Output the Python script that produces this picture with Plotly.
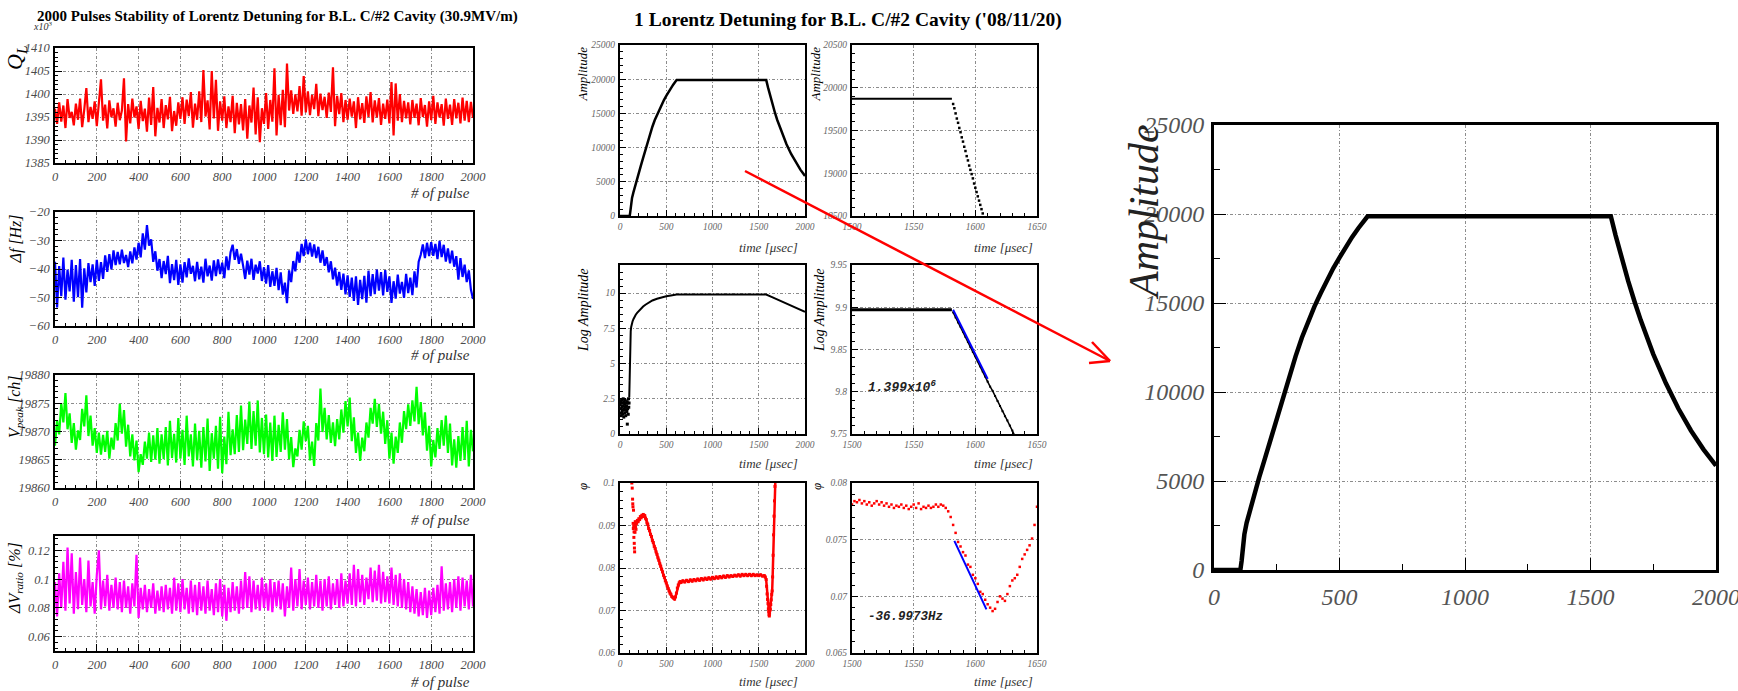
import math
import plotly.graph_objects as go

W, H = 1738, 691
SERIF = "Liberation Serif"
MONO = "Liberation Mono"

# ---------------- 2000-pulse stability run (every 10th pulse) ----------------
pulse = list(range(0, 2001, 10))

q_loaded = [  # Q_L  (x10^3)
    1396.8, 1393.5, 1398.2, 1394.0, 1397.5, 1392.6, 1398.9, 1394.8, 1396.1, 1393.2,
    1397.9, 1394.4, 1399.0, 1392.8, 1396.6, 1401.3, 1393.9, 1397.2, 1394.6, 1398.4,
    1393.0, 1399.1, 1403.2, 1394.2, 1397.7, 1392.5, 1398.6, 1395.0, 1396.9, 1392.9,
    1398.1, 1394.3, 1396.4, 1403.4, 1389.7, 1397.8, 1393.6, 1399.0, 1394.9, 1397.3,
    1392.4, 1398.5, 1394.1, 1396.8, 1391.8, 1399.2, 1393.3, 1401.5, 1390.8, 1397.0,
    1393.8, 1398.9, 1392.6, 1397.6, 1394.5, 1399.4, 1391.9, 1396.3, 1393.1, 1398.2,
    1394.6, 1399.3, 1393.5, 1398.8, 1395.2, 1400.4, 1392.7, 1397.9, 1394.4, 1400.6,
    1393.9, 1405.2, 1395.1, 1398.6, 1392.3, 1405.0, 1394.7, 1403.1, 1392.0, 1398.4,
    1394.2, 1399.5, 1392.6, 1397.3, 1393.9, 1399.6, 1391.5, 1398.1, 1393.4, 1397.8,
    1392.1, 1398.9, 1390.3, 1397.5, 1393.8, 1401.4, 1391.2, 1399.3, 1389.5, 1396.9,
    1393.5, 1400.2, 1392.4, 1398.7, 1394.0, 1405.6, 1391.0, 1399.8, 1393.2, 1400.9,
    1392.8, 1406.6, 1396.4, 1400.8, 1395.7, 1399.9, 1396.2, 1401.7, 1395.3, 1403.9,
    1396.0, 1400.6, 1395.4, 1399.8, 1396.7, 1402.2, 1395.2, 1400.1, 1396.5, 1399.4,
    1394.8, 1400.3, 1396.1, 1405.8, 1393.0, 1399.6, 1395.6, 1400.2, 1393.9, 1398.7,
    1394.4, 1399.0, 1395.1, 1398.4, 1392.6, 1399.3, 1394.5, 1398.0, 1393.7, 1399.5,
    1395.0, 1400.4, 1393.8, 1398.6, 1394.9, 1399.1, 1393.3, 1397.9, 1394.6, 1398.8,
    1393.6, 1402.6, 1391.0, 1402.3, 1394.2, 1400.0, 1393.9, 1398.5, 1394.7, 1398.2,
    1393.4, 1398.7, 1394.8, 1397.9, 1393.2, 1399.1, 1395.0, 1397.6, 1392.9, 1398.4,
    1394.3, 1399.6, 1393.5, 1398.2, 1394.9, 1397.8, 1393.1, 1399.0, 1394.6, 1397.7,
    1393.3, 1398.9, 1394.7, 1398.1, 1393.6, 1399.2, 1394.2, 1398.5, 1393.9, 1398.3,
    1394.8,
]

detune_hz = [
    -37.5, -53.5, -39.0, -49.5, -36.0, -50.8, -40.2, -47.9, -36.8, -51.5,
    -38.6, -49.9, -36.5, -53.6, -39.8, -48.2, -37.9, -44.6, -38.4, -45.9,
    -36.8, -44.2, -37.6, -43.5, -35.2, -41.0, -34.8, -40.1, -33.5, -38.6,
    -34.0, -38.4, -33.2, -37.9, -35.1, -39.3, -33.8, -38.0, -32.4, -36.7,
    -30.8, -35.9, -27.5, -33.2, -24.6, -31.8, -29.6, -37.5, -33.8, -40.6,
    -36.5, -43.2, -37.2, -41.8, -35.4, -45.0, -38.3, -43.9, -36.8, -45.6,
    -38.4, -44.8, -37.6, -42.9, -36.3, -41.7, -38.9, -44.3, -37.5, -43.6,
    -39.2, -44.8, -36.4, -42.6, -38.8, -44.1, -37.0, -42.5, -36.6, -41.8,
    -37.8, -43.2, -35.6, -40.4, -34.1, -31.5, -36.8, -33.0, -38.2, -34.6,
    -38.8, -43.5, -37.1, -42.0, -36.4, -43.8, -38.5, -41.6, -37.3, -44.2,
    -39.4, -45.1, -38.6, -46.3, -40.8, -45.9, -39.6, -47.4, -41.2, -49.0,
    -44.8, -52.0, -40.5, -44.6, -37.2, -40.8, -33.9, -37.8, -31.2, -35.5,
    -29.6, -34.8, -30.8, -35.6, -31.4, -36.2, -32.2, -37.8, -33.5, -38.9,
    -35.8, -41.2, -37.3, -43.6, -39.5, -45.8, -41.0, -47.3, -41.6, -48.9,
    -42.2, -49.8, -43.0, -51.2, -42.6, -52.6, -43.8, -50.6, -42.4, -51.8,
    -40.6, -49.5, -41.8, -48.8, -40.2, -47.6, -41.1, -49.3, -40.4, -48.0,
    -42.6, -51.9, -44.3, -50.4, -42.0, -48.6, -44.5, -50.1, -41.7, -48.5,
    -43.0, -49.2, -40.8, -46.5, -37.4, -35.0, -31.4, -36.2, -30.8, -35.5,
    -30.6, -35.4, -31.2, -36.5, -30.1, -35.8, -31.5, -37.4, -32.8, -38.0,
    -33.6, -39.2, -35.5, -43.7, -36.2, -42.8, -38.5, -44.6, -40.5, -47.2,
    -50.5,
]

v_peak = [
    19867.5, 19872.0, 19869.5, 19875.0, 19871.6, 19876.8, 19870.4, 19873.2, 19868.0, 19871.5,
    19866.8, 19870.2, 19868.5, 19874.0, 19870.9, 19876.4, 19869.2, 19872.8, 19867.5, 19870.6,
    19866.2, 19869.8, 19865.9, 19869.4, 19866.4, 19870.1, 19865.2, 19868.9, 19866.8, 19871.5,
    19868.4, 19874.9, 19869.6, 19873.8, 19867.3, 19871.2, 19865.6, 19869.5, 19864.9, 19868.4,
    19862.8, 19866.0, 19864.1, 19868.2, 19865.2, 19869.8, 19864.6, 19869.3, 19865.0, 19870.6,
    19864.3, 19869.5, 19865.1, 19870.8, 19864.0, 19871.9, 19865.3, 19869.6, 19864.5, 19872.4,
    19865.2, 19870.3, 19864.1, 19872.8, 19865.6, 19869.5, 19863.8, 19871.4, 19864.9, 19870.1,
    19863.6, 19870.8, 19864.7, 19872.3, 19863.0, 19869.7, 19865.2, 19871.0, 19863.4, 19872.6,
    19862.6, 19869.1, 19864.2, 19873.5, 19865.8, 19870.4, 19866.0, 19872.9, 19866.4, 19874.6,
    19866.7, 19872.1, 19867.8, 19875.3, 19866.9, 19873.6, 19867.5, 19875.5, 19866.3, 19872.4,
    19866.0, 19873.0, 19865.4, 19871.6, 19864.8, 19872.8, 19865.5, 19871.2, 19866.4, 19873.4,
    19866.8, 19872.2, 19865.1, 19869.0, 19863.7, 19867.0, 19865.6, 19870.3, 19866.8, 19871.8,
    19868.3, 19871.0, 19864.9, 19868.2, 19863.9, 19871.5, 19868.4, 19877.6, 19869.9, 19874.2,
    19868.6, 19872.9, 19868.0, 19871.6, 19867.4, 19872.2, 19868.6, 19873.9, 19869.8, 19875.4,
    19870.9, 19876.0, 19868.3, 19872.5, 19866.2, 19869.8, 19864.8, 19868.9, 19866.5, 19871.6,
    19868.9, 19874.2, 19871.4, 19875.8, 19870.8, 19874.9, 19869.6, 19873.5, 19867.8, 19872.0,
    19865.2, 19869.8, 19864.3, 19869.1, 19866.2, 19871.6, 19868.0, 19873.6, 19870.4, 19874.8,
    19871.0, 19875.5, 19871.8, 19877.9, 19871.3, 19875.2, 19869.3, 19873.4, 19866.6, 19871.0,
    19863.8, 19868.5, 19865.4, 19870.6, 19866.9, 19872.0, 19867.5, 19872.8, 19866.2, 19871.4,
    19864.0, 19868.6, 19863.6, 19869.2, 19864.8, 19870.8, 19865.0, 19871.9, 19863.8, 19870.3,
    19866.5,
]

dv_ratio = [  # %
    0.098, 0.074, 0.104, 0.080, 0.112, 0.078, 0.122, 0.083, 0.118, 0.076,
    0.105, 0.079, 0.115, 0.082, 0.100, 0.077, 0.113, 0.081, 0.098, 0.076,
    0.103, 0.120, 0.079, 0.099, 0.081, 0.103, 0.078, 0.096, 0.080, 0.101,
    0.079, 0.098, 0.077, 0.099, 0.080, 0.095, 0.076, 0.097, 0.081, 0.117,
    0.073, 0.094, 0.079, 0.096, 0.077, 0.093, 0.080, 0.097, 0.076, 0.092,
    0.078, 0.095, 0.077, 0.096, 0.079, 0.094, 0.076, 0.101, 0.078, 0.097,
    0.077, 0.100, 0.079, 0.094, 0.076, 0.099, 0.077, 0.096, 0.075, 0.098,
    0.078, 0.095, 0.076, 0.099, 0.078, 0.093, 0.075, 0.097, 0.077, 0.100,
    0.074, 0.096, 0.071, 0.094, 0.077, 0.098, 0.078, 0.095, 0.076, 0.099,
    0.079, 0.105, 0.080, 0.102, 0.077, 0.099, 0.079, 0.096, 0.078, 0.101,
    0.080, 0.097, 0.078, 0.100, 0.077, 0.098, 0.081, 0.099, 0.079, 0.097,
    0.074, 0.095, 0.080, 0.108, 0.078, 0.100, 0.081, 0.107, 0.079, 0.099,
    0.082, 0.101, 0.079, 0.098, 0.081, 0.103, 0.080, 0.099, 0.078, 0.100,
    0.081, 0.102, 0.079, 0.097, 0.082, 0.100, 0.080, 0.104, 0.081, 0.099,
    0.083, 0.104, 0.082, 0.110, 0.081, 0.107, 0.084, 0.103, 0.082, 0.101,
    0.086, 0.108, 0.084, 0.106, 0.085, 0.110, 0.083, 0.105, 0.084, 0.102,
    0.083, 0.108, 0.082, 0.103, 0.081, 0.104, 0.080, 0.100, 0.079, 0.098,
    0.077, 0.095, 0.076, 0.093, 0.074, 0.091, 0.075, 0.094, 0.073, 0.092,
    0.075, 0.094, 0.077, 0.096, 0.076, 0.109, 0.078, 0.097, 0.079, 0.098,
    0.077, 0.100, 0.080, 0.102, 0.078, 0.101, 0.081, 0.099, 0.079, 0.103,
    0.081,
]

# ---------------- single RF pulse ----------------
amp_t = [0, 105, 110, 115, 121, 130, 145, 160, 180, 200, 225, 250, 275, 300, 325, 350,
         375, 400, 425, 450, 475, 500, 525, 550, 575, 600, 612, 800, 1000, 1200, 1400,
         1581, 1600, 1625, 1650, 1675, 1700, 1750, 1800, 1850, 1900, 1950, 2000]
amp_v = [0, 0, 500, 1400, 2000, 2650, 3460, 4250, 5200, 6130, 7330, 8500, 9700, 10900,
         12000, 13050, 14000, 14800, 15550, 16300, 16950, 17550, 18150, 18700, 19200,
         19650, 19870, 19870, 19870, 19870, 19870, 19870, 18800, 17480, 16240, 15100,
         14040, 12130, 10500, 9070, 7840, 6780, 5860]

# pulse end, 1 us sampling
amp_flat_t = [1500, 1581]
amp_flat_v = [19870, 19870]
amp_fall_t = list(range(1582, 1607))
amp_fall_v = [19810, 19760, 19700, 19640, 19590, 19530, 19480, 19420, 19370, 19310,
              19260, 19200, 19150, 19090, 19040, 18990, 18940, 18880, 18830, 18780,
              18730, 18680, 18630, 18580, 18530]

# log amplitude, full pulse
lognoise_t = [2, 5, 8, 11, 14, 17, 20, 23, 26, 29, 32, 35, 38, 41, 44, 47, 50, 53, 56,
              59, 62, 65, 68, 71, 74, 77, 79, 83, 86, 89, 92, 95, 98]
lognoise_v = [2.1, 1.5, 2.3, 1.8, 1.3, 2.4, 1.9, 1.6, 2.2, 1.4, 2.0, 2.5, 1.7, 1.2, 2.3,
              1.8, 2.1, 1.5, 2.4, 1.9, 1.3, 2.2, 1.7, 2.0, 1.6, 2.3, 0.7, 1.8, 2.2, 1.4,
              2.5, 1.9, 2.2]
log_t = [100, 103, 106, 109, 112, 116, 121, 128, 136, 145, 155, 170, 185, 200, 225, 250,
         275, 300, 350, 400, 450, 500, 550, 600, 612, 1000, 1581, 1650, 1700, 1800, 1900, 2000]
log_v = [2.6, 3.9, 5.3, 6.3, 6.9, 7.3, 7.6, 7.85, 8.0, 8.15, 8.3, 8.47, 8.6, 8.72, 8.9,
         9.05, 9.18, 9.3, 9.48, 9.6, 9.7, 9.78, 9.84, 9.885, 9.897, 9.897, 9.897, 9.695,
         9.55, 9.26, 8.97, 8.674]

# log amplitude, pulse end
logz_flat_t = [1500, 1581]
logz_flat_v = [9.897, 9.897]
logz_fall_t = list(range(1582, 1633, 2))
logz_fall_v = [9.894, 9.888, 9.882, 9.877, 9.871, 9.865, 9.859, 9.853, 9.847, 9.842,
               9.836, 9.830, 9.824, 9.818, 9.812, 9.806, 9.801, 9.795, 9.789, 9.783,
               9.777, 9.771, 9.766, 9.760, 9.754, 9.748]

# phase, full pulse
phi_start_t = [128, 132, 136, 138, 140, 142, 144, 146, 148, 150, 152, 154, 156, 158, 160,
               162, 165, 168, 170, 173, 176]
phi_start_v = [0.1, 0.0988, 0.0962, 0.0951, 0.0944, 0.0905, 0.0893, 0.0936, 0.0898, 0.0872,
               0.0885, 0.0858, 0.0847, 0.0838, 0.0902, 0.0884, 0.0909, 0.0896, 0.0903,
               0.0891, 0.0908]
phi_t = [180, 188, 196, 204, 212, 220, 228, 236, 244, 252, 260, 268, 276, 284, 292, 300,
         310, 320, 330, 340, 350, 360, 370, 380, 390, 400, 410, 420, 430, 440, 450, 460,
         470, 480, 490, 500, 510, 520, 530, 540, 550, 560, 570, 580, 590, 600, 610, 620,
         630, 640, 650, 660, 680, 700, 720, 740, 760, 780, 800, 820, 840, 860, 880, 900,
         920, 940, 960, 980, 1000, 1020, 1040, 1060, 1080, 1100, 1120, 1140, 1160, 1180,
         1200, 1220, 1240, 1260, 1280, 1300, 1320, 1340, 1360, 1380, 1400, 1420, 1440,
         1460, 1480, 1500, 1520, 1540, 1560, 1570, 1580, 1585, 1590, 1595, 1600, 1604,
         1608, 1611, 1614, 1617, 1620, 1625, 1630, 1635, 1640, 1645, 1650, 1655, 1660,
         1665, 1670, 1675, 1680]
phi_v = [0.0905, 0.0912, 0.0909, 0.0916, 0.0914, 0.0921, 0.0918, 0.0924, 0.0921, 0.0926,
         0.0922, 0.0923, 0.0917, 0.0914, 0.0906, 0.0903, 0.0893, 0.0888, 0.0879, 0.0874,
         0.0865, 0.0860, 0.0851, 0.0846, 0.0838, 0.0832, 0.0824, 0.0818, 0.0810, 0.0804,
         0.0797, 0.0791, 0.0783, 0.0778, 0.0770, 0.0765, 0.0758, 0.0752, 0.0746, 0.0741,
         0.0738, 0.0733, 0.0731, 0.0729, 0.0727, 0.0732, 0.0741, 0.0753, 0.0760, 0.0765,
         0.0768, 0.0766, 0.0770, 0.0767, 0.0771, 0.0768, 0.0772, 0.0769, 0.0773, 0.0770,
         0.0774, 0.0771, 0.0775, 0.0772, 0.0776, 0.0773, 0.0777, 0.0774, 0.0778, 0.0775,
         0.0779, 0.0776, 0.0780, 0.0777, 0.0781, 0.0778, 0.0782, 0.0779, 0.0782, 0.0780,
         0.0783, 0.0781, 0.0784, 0.0781, 0.0785, 0.0782, 0.0785, 0.0782, 0.0785, 0.0782,
         0.0785, 0.0782, 0.0784, 0.0782, 0.0784, 0.0781, 0.0782, 0.0779, 0.0773, 0.0757,
         0.0739, 0.0726, 0.0716, 0.0704, 0.0697, 0.0690, 0.0687, 0.0694, 0.0700, 0.0703,
         0.0714, 0.0725, 0.0738, 0.0746, 0.0779, 0.0830, 0.0878, 0.0922, 0.0958, 0.0992,
         0.1010]

# phase, pulse end (2 us sampling)
phiz_t = list(range(1500, 1651, 2))
phiz_v = [0.0781, 0.0784, 0.0783, 0.0785, 0.0782, 0.0784, 0.0781, 0.0783, 0.0780, 0.0782,
          0.0784, 0.0781, 0.0783, 0.0780, 0.0782, 0.0779, 0.0781, 0.0778, 0.0780, 0.0779,
          0.0781, 0.0778, 0.0780, 0.0777, 0.0779, 0.0781, 0.0778, 0.0782, 0.0777, 0.0779,
          0.0778, 0.0780, 0.0778, 0.0779, 0.0781, 0.0779, 0.0781, 0.0780, 0.0778, 0.0775,
          0.0770, 0.0763, 0.0756, 0.0748, 0.0744, 0.0739, 0.0736, 0.0728, 0.0726, 0.0719,
          0.0716, 0.0711, 0.0704, 0.0702, 0.0697, 0.0693, 0.0690, 0.0687, 0.0689, 0.0695,
          0.0700, 0.0698, 0.0696, 0.0702, 0.0709, 0.0714, 0.0716, 0.0719, 0.0726, 0.0733,
          0.0737, 0.0741, 0.0745, 0.0751, 0.0763, 0.0779]

# fit results quoted on the plots
F0_HZ = 1.3e9
QL_FIT = 1.399e6
DF_FIT_HZ = -36.9973
ql_fit_t = [1582, 1610]
ql_fit_start = 9.897
df_fit_t = [1583, 1609]
df_fit_start = 0.0749

fig = go.Figure()


def add_axes(n, box, xr, yr, xd, yd, xm, ym, fs, lw, tl, color="#4a4a4a"):
    sfx = "" if n == 1 else str(n)
    l, r, t, b = box
    common = dict(showline=True, linecolor="black", linewidth=lw, mirror=True,
                  ticks="inside", ticklen=tl, tickwidth=1, tickcolor="black",
                  showgrid=True, gridcolor="#8c8c8c", gridwidth=1,
                  griddash="3px,2px,1px,2px", zeroline=False, exponentformat="none",
                  tick0=0, fixedrange=True, ticklabelstandoff=1, automargin=False,
                  tickfont=dict(family=SERIF, size=fs, color=color, style="italic"))
    minor = dict(ticks="inside", ticklen=max(2, tl * 0.5), tickcolor="black",
                 tickwidth=1, showgrid=False, tick0=0)
    fig.update_layout(**{
        "xaxis" + sfx: dict(common, domain=[l / W, r / W], anchor="y" + sfx,
                            range=xr, dtick=xd, minor=dict(minor, dtick=xm)),
        "yaxis" + sfx: dict(common, domain=[1 - b / H, 1 - t / H], anchor="x" + sfx,
                            range=yr, dtick=yd, minor=dict(minor, dtick=ym)),
    })
    return "x" + sfx, "y" + sfx


def line(ax, x, y, color, width, mode="lines", size=3):
    fig.add_trace(go.Scatter(
        x=x, y=y, xaxis=ax[0], yaxis=ax[1], mode=mode, showlegend=False,
        hoverinfo="skip", line=dict(color=color, width=width),
        marker=dict(color=color, size=size, symbol="square")))


def text(x, y, s, size, anchor="center", yanchor="middle", angle=0, bold=False,
         family=SERIF, italic=True, color="black", xref="paper", yref="paper"):
    if xref == "paper":
        x = x / W
    if yref == "paper":
        y = 1 - y / H
    fig.add_annotation(x=x, y=y, xref=xref, yref=yref, text=s, showarrow=False,
                       xanchor=anchor, yanchor=yanchor, textangle=angle,
                       font=dict(family=family, size=size, color=color,
                                 style="italic" if italic else "normal",
                                 weight="bold" if bold else "normal"))


# ---------------- left column: pulse-to-pulse stability ----------------
LX = (55, 473)
ax_q = add_axes(1, (LX[0], LX[1], 48, 163), [0, 2000], [1385, 1410], 200, 5, 50, 1, 12.5, 1.5, 7)
ax_f = add_axes(2, (LX[0], LX[1], 212, 326), [0, 2000], [-60, -20], 200, 10, 50, 2, 12.5, 1.5, 7)
ax_v = add_axes(3, (LX[0], LX[1], 375, 488), [0, 2000], [19860, 19880], 200, 5, 50, 1, 12.5, 1.5, 7)
ax_r = add_axes(4, (LX[0], LX[1], 536, 651), [0, 2000], [0.05, 0.13], 200, 0.02, 50, 0.004, 12.5, 1.5, 7)
fig.update_layout(yaxis3_tickformat="d")

line(ax_q, pulse, q_loaded, "#ff0000", 2.2)
line(ax_f, pulse, detune_hz, "#0000ff", 2.2)
line(ax_v, pulse, v_peak, "#00ff00", 2.2)
line(ax_r, pulse, dv_ratio, "#ff00ff", 2.2)

text(35, 17, "2000 Pulses Stability of Lorentz Detuning for B.L. C/#2 Cavity (30.9MV/m)",
     15, anchor="left", bold=True, italic=False)
text(31, 26, "x10<sup>3</sup>", 10, anchor="left", color="#333")
text(16, 44, "Q<sub>L</sub>", 22, yanchor="top", angle=-90)
text(15, 212, "Δf [Hz]", 16, yanchor="top", angle=-90)
text(15, 374, "V<sub>peak</sub> [ch]", 16, yanchor="top", angle=-90)
text(15, 540, "ΔV<sub>ratio</sub> [%]", 16, yanchor="top", angle=-90)
for yy in (193, 355, 520, 682):
    text(472, yy, "# of pulse", 15, anchor="right", color="#333")

# ---------------- middle column: single-pulse waveforms ----------------
ML, MR = (620, 805), (852, 1037)
R1, R2, R3 = (45, 216), (265, 434), (483, 653)
ax_a = add_axes(5, (ML[0], ML[1]) + R1, [0, 2000], [0, 25000], 500, 5000, 100, 1000, 9.5, 2, 6, "#666")
ax_az = add_axes(6, (MR[0], MR[1]) + R1, [1500, 1650], [18500, 20500], 50, 500, 10, 100, 9.5, 2, 6, "#666")
ax_l = add_axes(7, (ML[0], ML[1]) + R2, [0, 2000], [0, 12], 500, 2.5, 100, 0.5, 9.5, 2, 6, "#666")
ax_lz = add_axes(8, (MR[0], MR[1]) + R2, [1500, 1650], [9.75, 9.95], 50, 0.05, 10, 0.01, 9.5, 2, 6, "#666")
ax_p = add_axes(9, (ML[0], ML[1]) + R3, [0, 2000], [0.06, 0.1], 500, 0.01, 100, 0.002, 9.5, 2, 6, "#666")
ax_pz = add_axes(10, (MR[0], MR[1]) + R3, [1500, 1650], [0.065, 0.08], 50, 0.005, 10, 0.001, 9.5, 2, 6, "#666")
fig.update_layout(yaxis5_tickformat="d", yaxis6_tickformat="d")

line(ax_a, amp_t, amp_v, "black", 2.5)
line(ax_az, amp_flat_t, amp_flat_v, "black", 2)
line(ax_az, amp_fall_t, amp_fall_v, "black", 1, mode="markers", size=2.5)

line(ax_l, lognoise_t, lognoise_v, "black", 1, mode="markers", size=3)
line(ax_l, log_t, log_v, "black", 2)
line(ax_lz, logz_flat_t, logz_flat_v, "black", 3)
line(ax_lz, logz_fall_t, logz_fall_v, "black", 1.5, mode="lines+markers", size=2)
# exponential-decay fit: slope of ln(A) is -pi*f0/QL
ql_slope = math.pi * F0_HZ / QL_FIT * 1e-6
line(ax_lz, ql_fit_t, [ql_fit_start - ql_slope * (t - ql_fit_t[0]) for t in ql_fit_t], "#0000ff", 2)

line(ax_p, phi_start_t, phi_start_v, "#ff0000", 1, mode="markers", size=3)
line(ax_p, phi_t, phi_v, "#ff0000", 2.5, mode="lines+markers", size=3)
line(ax_pz, phiz_t, phiz_v, "#ff0000", 1, mode="markers", size=2.5)
# linear phase fit: slope is 2*pi*df
df_slope = 2 * math.pi * DF_FIT_HZ * 1e-6
line(ax_pz, df_fit_t, [df_fit_start + df_slope * (t - df_fit_t[0]) for t in df_fit_t], "#0000ff", 2)

text(1064, 20, "1 Lorentz Detuning for B.L. C/#2 Cavity ('08/11/20)", 19.5,
     anchor="right", bold=True, italic=False)
text(582, 45, "Amplitude", 13, yanchor="top", angle=-90)
text(815, 45, "Amplitude", 13, yanchor="top", angle=-90)
text(583, 266, "Log Amplitude", 14, yanchor="top", angle=-90)
text(819, 266, "Log Amplitude", 14, yanchor="top", angle=-90)
text(583, 487, "φ", 13, yanchor="middle", angle=-90)
text(817, 487, "φ", 13, yanchor="middle", angle=-90)
for yy in (247, 463, 681):
    text(800, yy, "time [μsec]", 13, anchor="right", color="#333")
    text(1035, yy, "time [μsec]", 13, anchor="right", color="#333")

text(1511, 9.806, "1.399x10<sup>6</sup>", 13, anchor="left", family=MONO, bold=True,
     xref=ax_lz[0], yref=ax_lz[1], color="#222")
text(1511, 0.0682, "-36.9973Hz", 12.5, anchor="left", family=MONO, bold=True,
     xref=ax_pz[0], yref=ax_pz[1], color="#222")

# ---------------- right: enlarged amplitude ----------------
ax_big = add_axes(11, (1214, 1716, 125, 570), [0, 2000], [0, 25000], 500, 5000, 250, 2500, 24, 3, 12, "#555")
fig.update_layout(xaxis11_ticklabelstandoff=3, yaxis11_ticklabelstandoff=2,
                  yaxis11_tickformat="d", xaxis11_ticklabeloverflow="allow",
                  yaxis11_ticklabeloverflow="allow")
line(ax_big, amp_t, amp_v, "black", 4.5)
text(1144, 122, "Amplitude", 42, yanchor="top", angle=-90, color="#222")

# ---------------- zoom arrow ----------------
def seg(x0, y0, x1, y1):
    fig.add_shape(type="line", xref="paper", yref="paper",
                  x0=x0 / W, y0=1 - y0 / H, x1=x1 / W, y1=1 - y1 / H,
                  line=dict(color="#ff0000", width=2.5))


seg(745, 171, 1110, 361)
seg(1110, 361, 1092, 342)
seg(1110, 361, 1089, 363)

fig.update_layout(width=W, height=H, margin=dict(l=0, r=0, t=0, b=0, pad=0, autoexpand=False),
                  paper_bgcolor="white", plot_bgcolor="white", showlegend=False)

fig.write_html("out.html", config={"displayModeBar": False},
               post_script="document.body.style.margin='0';document.body.style.overflow='hidden';")
